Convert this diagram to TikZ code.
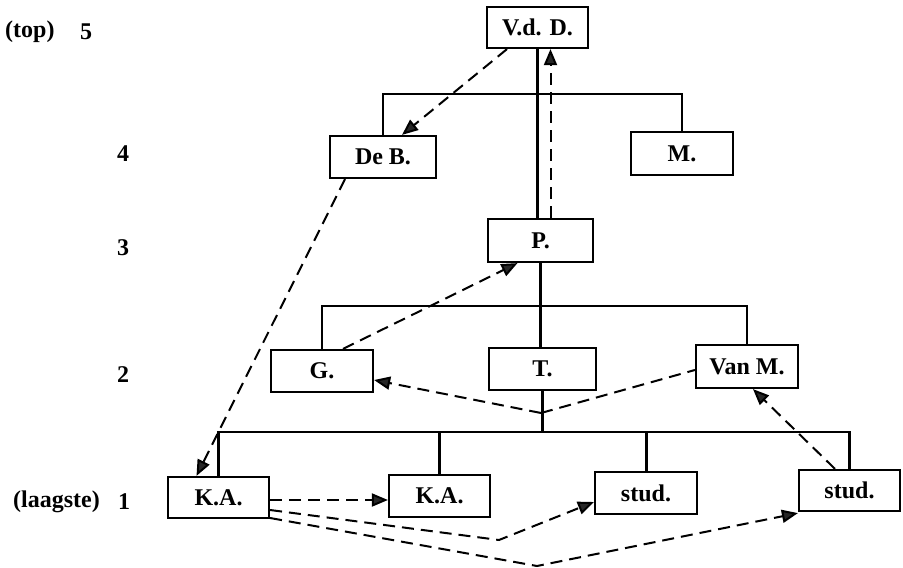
\documentclass[tikz,border=0pt]{standalone}
\usepackage{fontspec}
\setmainfont{Liberation Serif}
\usetikzlibrary{arrows.meta}
\begin{document}
\begin{tikzpicture}[x=1pt,y=-1pt,
  box/.style={draw,line width=2.2pt,inner sep=0pt,font=\fontsize{24}{27}\selectfont\bfseries},
  lab/.style={inner sep=0pt,font=\fontsize{24}{27}\selectfont\bfseries},
  tree/.style={line width=2.2pt},
  dasharrow/.style={line width=2pt,dash pattern=on 12pt off 7pt,-{Triangle[length=16pt,width=13pt,fill=black!85]}},
  dashline/.style={line width=2pt,dash pattern=on 12pt off 7pt}]
\useasboundingbox (0,0) rectangle (903,568);
% level labels
\node[lab,anchor=west] (ltop) at (5,32) {(top)};
\node[lab] (l5) at (86,32) {5};
\node[lab] (l4) at (123,154) {4};
\node[lab] (l3) at (123,248) {3};
\node[lab] (l2) at (123,375) {2};
\node[lab,anchor=west] (llow) at (13,502) {(laagste)};
\node[lab] (l1) at (124,502) {1};
% boxes
\node[box,minimum width=101pt,minimum height=41pt] (vdd) at (537.5,27.5) {V.d. D.};
\node[box,minimum width=106pt,minimum height=42pt] (deb) at (383,157) {De B.};
\node[box,minimum width=102pt,minimum height=43pt] (m) at (682,153.5) {M.};
\node[box,minimum width=105pt,minimum height=43pt] (p) at (540.5,240.5) {P.};
\node[box,minimum width=102pt,minimum height=42pt] (g) at (322,371) {G.};
\node[box,minimum width=107pt,minimum height=42pt] (t) at (542.5,369) {T.};
\node[box,minimum width=102pt,minimum height=43pt] (vanm) at (747,366.5) {Van M.};
\node[box,minimum width=101pt,minimum height=41pt] (ka1) at (218.5,497.5) {K.A.};
\node[box,minimum width=101pt,minimum height=42pt] (ka2) at (439.5,496) {K.A.};
\node[box,minimum width=102pt,minimum height=42pt] (stud1) at (646,493) {stud.};
\node[box,minimum width=101pt,minimum height=41pt] (stud2) at (849.5,490.5) {stud.};
% tree coordinates
\coordinate (b4) at (538,94);
\coordinate (b2) at (540,306);
\coordinate (b1) at (541,432);
\coordinate (j) at (541,413);
\coordinate (v1) at (499,540);
\coordinate (v2) at (537,566);
% tree
\draw[tree] (deb.north) |- (b4) -| (m.north);
\draw[tree] (vdd.south) -- (vdd.south |- p.north);
\draw[tree] (p.south) -- (p.south |- t.north);
\draw[tree] (g.north) |- (b2) -| (vanm.north);
\draw[tree] (t.south) -- (t.south |- b1);
\draw[tree] (ka1.north) |- (b1) -| (stud2.north);
\draw[tree] (ka2.north) -- (ka2.north |- b1);
\draw[tree,line width=3pt] (stud1.north) -- (stud1.north |- b1);
% dashed relations
\draw[dasharrow] ([xshift=-30.5pt]vdd.south) -- ([xshift=19pt]deb.north);
\draw[dasharrow] ([xshift=10pt]p.north) -- ([xshift=10pt]p.north |- vdd.south);
\draw[dasharrow] ([xshift=-38pt]deb.south) -- ([xshift=-22pt]ka1.north);
\draw[dasharrow] ([xshift=21pt]g.north) -- ([xshift=-23pt]p.south);
\draw[dasharrow] (j) -- ([yshift=-9pt]g.east);
\draw[dashline] (j) -- ([yshift=-3.5pt]vanm.west);
\draw[dasharrow] ([xshift=-14.5pt]stud2.north) -- ([xshift=6pt]vanm.south);
\draw[dasharrow] ([yshift=-2.5pt]ka1.east) -- ([yshift=-4pt]ka2.west);
\draw[dasharrow] ([yshift=-12.5pt]ka1.east) -- (v1) -- ([yshift=-9pt]stud1.west);
\draw[dasharrow] ([yshift=-20.5pt]ka1.east) -- (v2) -- ([yshift=-1pt]stud2.south west);
\end{tikzpicture}
\end{document}
